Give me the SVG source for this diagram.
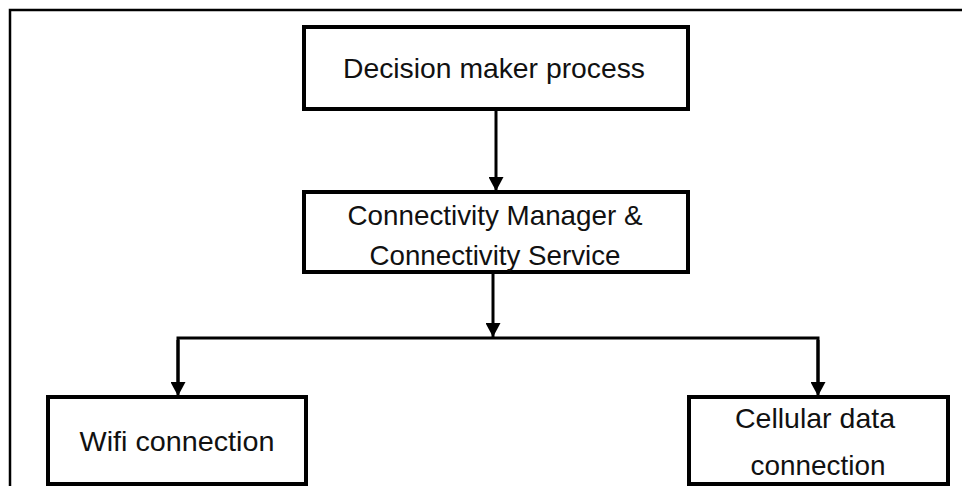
<svg xmlns="http://www.w3.org/2000/svg" width="962" height="486" viewBox="0 0 962 486">
  <defs>
    <marker id="arrowhead" markerUnits="userSpaceOnUse" markerWidth="15" markerHeight="15" refX="14" refY="7.5" orient="auto">
      <path d="M0,0 L14,7.5 L0,15 z" fill="#000"/>
    </marker>
    <style>
      .frame { fill: none; stroke: #000; stroke-width: 2.5; }
      .box { fill: #fff; stroke: #000; stroke-width: 4; }
      .label { font-family: "Liberation Sans", Arial, sans-serif; font-size: 28px; fill: #111; text-anchor: middle; }
      .wire { fill: none; stroke: #000; stroke-width: 3; }
    </style>
  </defs>

  <rect x="0" y="0" width="962" height="486" fill="#fff"/>
  <!-- outer frame (continues past the right and bottom edges) -->
  <rect class="frame" x="10" y="10" width="970" height="490"/>

  <g id="connectors">
    <line class="wire" x1="496" y1="111" x2="496" y2="191" marker-end="url(#arrowhead)"/>
    <line class="wire" x1="493" y1="273" x2="493" y2="337" marker-end="url(#arrowhead)"/>
    <polyline class="wire" points="178,390 178,338 818,338 818,390"/>
    <line class="wire" x1="178" y1="340" x2="178" y2="396" marker-end="url(#arrowhead)"/>
    <line class="wire" x1="818" y1="340" x2="818" y2="396" marker-end="url(#arrowhead)"/>
  </g>

  <g id="decision-maker">
    <rect class="box" x="304" y="27" width="384" height="82"/>
    <text class="label" x="494" y="78" textLength="302" lengthAdjust="spacingAndGlyphs">Decision maker process</text>
  </g>

  <g id="connectivity-manager">
    <rect class="box" x="304" y="192" width="384" height="80"/>
    <text class="label" x="495" y="225" textLength="295" lengthAdjust="spacingAndGlyphs">Connectivity Manager &amp;</text>
    <text class="label" x="495" y="265" textLength="251" lengthAdjust="spacingAndGlyphs">Connectivity Service</text>
  </g>

  <g id="wifi">
    <rect class="box" x="48" y="397" width="258" height="87"/>
    <text class="label" x="177" y="451" textLength="195" lengthAdjust="spacingAndGlyphs">Wifi connection</text>
  </g>

  <g id="cellular">
    <rect class="box" x="689" y="397" width="259" height="87"/>
    <text class="label" x="815" y="428" textLength="160" lengthAdjust="spacingAndGlyphs">Cellular data</text>
    <text class="label" x="818" y="475" textLength="135" lengthAdjust="spacingAndGlyphs">connection</text>
  </g>
</svg>
